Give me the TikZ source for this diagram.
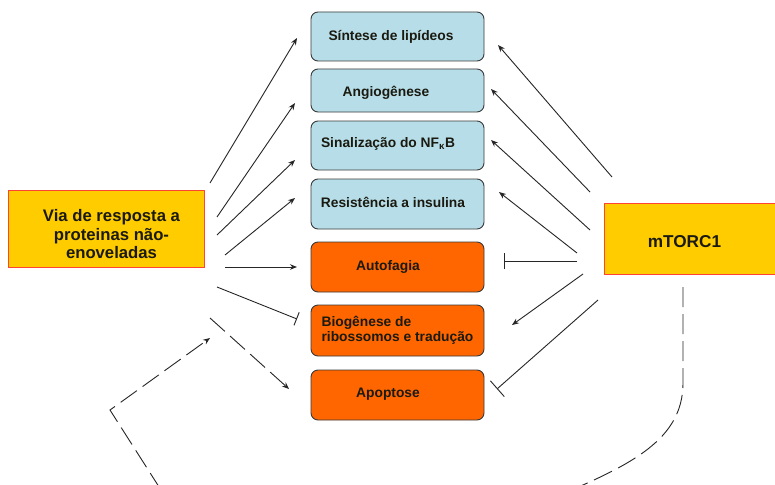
\documentclass[tikz,border=0pt]{standalone}
\usepackage{fontspec}
\setmainfont{Liberation Sans}
\usetikzlibrary{arrows.meta}
\definecolor{boxblue}{HTML}{B7DEE8}
\definecolor{boxorange}{HTML}{FF6600}
\definecolor{boxyellow}{HTML}{FFCC00}
\definecolor{boxred}{HTML}{FF4433}
\definecolor{boxline}{HTML}{3A3A3A}
\definecolor{linegray}{HTML}{262626}
\definecolor{txt}{HTML}{1A1A10}
\begin{document}
\begin{tikzpicture}[x=1pt,y=-1pt,
  box/.style={draw=boxline, line width=0.9pt, rounded corners=7pt, minimum width=173pt, inner sep=0pt},
  bluebox/.style={box, fill=boxblue},
  orangebox/.style={box, fill=boxorange},
  lbl/.style={font=\bfseries\fontsize{13.8}{14.5}\selectfont, text=txt, inner sep=0pt, align=left},
  ybox/.style={draw=boxred, line width=0.9pt, fill=boxyellow, inner sep=0pt},
  ylbl/.style={font=\bfseries\fontsize{16.7}{18.5}\selectfont, text=txt, inner sep=0pt, align=center},
  conn/.style={draw=linegray, line width=0.9pt},
  arr/.style={conn, -{Stealth[length=7pt,width=5.5pt]}},
  inh/.style={conn, -{Bar[width=14pt]}},
  dsh/.style={conn, dash pattern=on 20pt off 7pt},
]
\clip (0,0) rectangle (775,484);
\fill[white] (0,0) rectangle (775,484);

% target boxes
\node[bluebox, minimum height=49pt, label={[lbl,xshift=-6.5pt]center:{Síntese de lipídeos}}] (sint) at (397.5,36.5) {};
\node[bluebox, minimum height=43pt, label={[lbl,xshift=-11.5pt,yshift=-2pt]center:{Angiogênese}}] (angi) at (397.5,90.5) {};
\node[bluebox, minimum height=49pt, label={[lbl,xshift=-9.5pt,yshift=2pt]center:{Sinalização do NF\textsubscript{κ}B}}] (nfkb) at (397.5,145.5) {};
\node[bluebox, minimum height=50pt, label={[lbl,xshift=-4.5pt,yshift=2pt]center:{Resistência a insulina}}] (insu) at (397.5,204) {};
\node[orangebox, minimum height=50pt, label={[lbl,xshift=-9.5pt]center:{Autofagia}}] (auto) at (397.5,267) {};
\node[orangebox, minimum height=51pt, label={[lbl,xshift=0pt]center:{Biogênese de\\ribossomos e tradução}}] (biog) at (397.5,330.5) {};
\node[orangebox, minimum height=50pt, label={[lbl,xshift=-9.5pt,yshift=1pt]center:{Apoptose}}] (apop) at (397.5,395) {};

% source boxes
\node[ybox, minimum width=196pt, minimum height=77pt, label={[ylbl,xshift=5.5pt,yshift=-6pt]center:{Via de resposta a\\proteinas não-\\enoveladas}}] (upr) at (106,228.5) {};
\node[ybox, minimum width=200pt, minimum height=71pt, label={[ylbl,font=\bfseries\fontsize{17.2}{18.5}\selectfont,xshift=-20pt,yshift=-3.5pt]center:{mTORC1}}] (mtor) at (704.5,238.5) {};

% connector end points
\coordinate (l1) at (210,183);
\coordinate (l2) at (217,217);
\coordinate (l3) at (217,235);
\coordinate (l4) at (225,255);
\coordinate (l5) at (225,267);
\coordinate (l6) at (217,287);
\coordinate (l7) at (210,318);
\coordinate (t1) at (297,38);
\coordinate (t2) at (295,103);
\coordinate (t3) at (295,160);
\coordinate (t4) at (295,198);
\coordinate (t5) at (297,267);
\coordinate (t6) at (297,319);
\coordinate (t7) at (289,389);

\coordinate (r1) at (612,177);
\coordinate (r2) at (590,192);
\coordinate (r3) at (590,230);
\coordinate (r4) at (577,253);
\coordinate (r5) at (577,261);
\coordinate (r6) at (583,274);
\coordinate (r7) at (598,300);
\coordinate (u1) at (498,45);
\coordinate (u2) at (491,89);
\coordinate (u3) at (491,140);
\coordinate (u4) at (499,192);
\coordinate (u5) at (504,261);
\coordinate (u6) at (512,325);
\coordinate (u7) at (497,389);

% left connectors
\draw[arr] (l1) -- (t1);
\draw[arr] (l2) -- (t2);
\draw[arr] (l3) -- (t3);
\draw[arr] (l4) -- (t4);
\draw[arr] (l5) -- (t5);
\draw[inh] (l6) -- (t6);
\draw[dsh, -{Stealth[length=7pt,width=5.5pt]}] (l7) -- (t7);

% right connectors
\draw[arr] (r1) -- (u1);
\draw[arr] (r2) -- (u2);
\draw[arr] (r3) -- (u3);
\draw[arr] (r4) -- (u4);
\draw[conn, -{Bar[width=16pt]}] (r5) -- (u5);
\draw[arr] (r6) -- (u6);
\draw[conn, -{Bar[width=21pt]}] (r7) -- (u7);

% feedback loop (dashed)
\coordinate (fb1) at (683,287);
\coordinate (fb2) at (683,383);
\coordinate (fb3) at (560,495);
\coordinate (fb4) at (161,490);
\coordinate (fb5) at (110,410);
\coordinate (fb6) at (210,338);
\draw[dsh] (fb1) -- (fb2) .. controls (683,440) and (630,465) .. (fb3);
\draw[dsh, -{Stealth[length=7pt,width=5.5pt]}] (fb4) -- (fb5) -- (fb6);
\end{tikzpicture}
\end{document}
